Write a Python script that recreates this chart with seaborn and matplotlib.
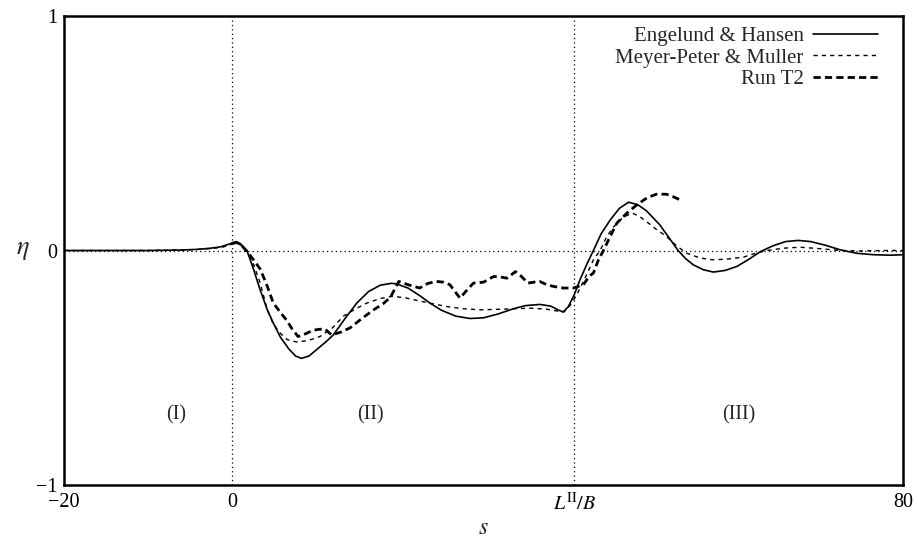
import matplotlib
matplotlib.use('Agg')
import matplotlib.pyplot as plt
import pandas as pd
import seaborn as sns

# 数据
L_B = 40.8  # L^II/B 的位置

eh_s = [-20, -10, -6, -4, -2.5, -1.4, -0.5, 0.5, 1.0, 1.8, 2.5, 3.4, 4.2, 4.95, 5.8, 6.8,
        7.6, 8.3, 9.2, 10.2, 11.2, 12.1, 13.5, 14.9, 16.3, 17.7, 19.0, 19.6, 21.0, 22.5,
        23.6, 25.0, 26.7, 28.4, 30.0, 31.8, 33.6, 35.0, 36.7, 38.0, 39.0, 39.5, 40.1,
        40.8, 41.5, 42.3, 43.1, 44.0, 45.1, 46.2, 47.3, 48.4, 49.4, 50.2, 51.0, 52.1,
        53.2, 54.1, 55.0, 56.2, 57.4, 58.8, 60.2, 61.6, 63.0, 64.5, 66.0, 67.5, 69.0,
        70.8, 72.5, 74.5, 76.5, 78.5, 80]
eh_eta = [0, 0, 0.002, 0.005, 0.01, 0.015, 0.025, 0.038, 0.03, 0.0, -0.07, -0.17, -0.25,
          -0.31, -0.37, -0.42, -0.45, -0.46, -0.45, -0.42, -0.39, -0.36, -0.29, -0.224,
          -0.175, -0.148, -0.14, -0.142, -0.16, -0.195, -0.224, -0.255, -0.28, -0.29,
          -0.287, -0.27, -0.248, -0.235, -0.23, -0.237, -0.255, -0.262, -0.24, -0.19,
          -0.125, -0.06, 0.0, 0.07, 0.13, 0.18, 0.206, 0.195, 0.17, 0.14, 0.11, 0.055,
          0.0, -0.035, -0.061, -0.082, -0.092, -0.085, -0.068, -0.038, -0.005, 0.02,
          0.038, 0.043, 0.038, 0.022, 0.003, -0.012, -0.018, -0.02, -0.018]

mpm_s = [-20, -10, -5, -2.5, -1, 0.3, 1.0, 1.8, 2.6, 3.4, 4.2, 4.9, 5.7, 6.6, 7.7, 9.0,
         10.5, 12.0, 13.3, 14.7, 16.1, 17.7, 19.2, 20.8, 23.0, 25.6, 27.5, 29.6, 32.5,
         35.5, 37.5, 39.1, 39.6, 40.3, 41.1, 42.2, 43.1, 43.9, 44.7, 45.5, 46.6, 47.7,
         48.6, 49.4, 50.6, 51.8, 53.0, 54.2, 55.8, 57.4, 59.2, 61.0, 62.4, 63.8, 65.8,
         67.7, 70, 72.5, 75, 77.5, 80]
mpm_eta = [0, 0, 0.003, 0.008, 0.015, 0.03, 0.025, 0.0, -0.06, -0.14, -0.25, -0.31, -0.35,
           -0.38, -0.39, -0.385, -0.367, -0.33, -0.28, -0.25, -0.224, -0.205, -0.195,
           -0.203, -0.22, -0.239, -0.248, -0.253, -0.25, -0.246, -0.25, -0.26, -0.262,
           -0.235, -0.19, -0.11, -0.04, 0.0, 0.06, 0.10, 0.14, 0.16, 0.145, 0.124, 0.09,
           0.06, 0.02, -0.011, -0.032, -0.04, -0.036, -0.028, -0.012, 0.0, 0.01, 0.014,
           0.008, 0.0, -0.002, 0.0, 0.0]

t2_s = [0.0, 0.6, 1.2, 1.8, 2.6, 3.4, 4.2, 4.95, 5.7, 6.5, 7.2, 7.9, 8.8, 9.7, 10.4, 11.1,
        11.9, 13.0, 14.1, 15.5, 16.9, 18.0, 18.9, 19.9, 21.2, 22.4, 23.4, 24.4, 25.2,
        26.0, 26.6, 27.2, 28.0, 28.8, 30.0, 31.2, 32.0, 32.8, 33.8, 34.5, 35.3, 36.0,
        36.7, 37.5, 38.3, 39.5, 40.7, 41.9, 42.6, 43.1, 43.7, 44.3, 45.1, 45.9, 47.1,
        48.3, 49.5, 50.6, 51.8, 52.7, 53.6]
t2_eta = [0.03, 0.034, 0.02, -0.004, -0.04, -0.08, -0.15, -0.224, -0.26, -0.296, -0.335,
          -0.367, -0.355, -0.34, -0.336, -0.335, -0.36, -0.348, -0.33, -0.29, -0.253,
          -0.228, -0.2, -0.132, -0.148, -0.16, -0.14, -0.132, -0.135, -0.146, -0.175,
          -0.203, -0.17, -0.139, -0.135, -0.111, -0.113, -0.118, -0.09, -0.11, -0.139,
          -0.135, -0.132, -0.145, -0.153, -0.16, -0.16, -0.146, -0.11, -0.096, -0.04,
          0.0, 0.06, 0.117, 0.16, 0.195, 0.225, 0.24, 0.24, 0.228, 0.213]

x_ticks = [-20, 0, L_B, 80]
x_ticklabels = ['\u221220', '0', r'$L^{\mathrm{II}}/B$', '80']
y_ticks = [-1, 0, 1]
y_ticklabels = ['\u22121', '0', '1']

region_labels = ['(I)', '(II)', '(III)']
region_s = [-6.6, 16.5, 60.4]
region_eta = -0.70

# 样式
sns.set_style('white')
plt.rcParams['font.family'] = ['Liberation Serif', 'DejaVu Serif']
plt.rcParams['mathtext.fontset'] = 'stix'
plt.rcParams['axes.unicode_minus'] = True

fig = plt.figure(figsize=(9.18, 5.42), dpi=100)
ax = fig.add_axes([64 / 918, 57 / 542, 839 / 918, 469 / 542])

# 参考线
ax.axvline(0, color='black', linestyle=(0, (1, 2.5)), linewidth=0.9, zorder=1)
ax.axvline(L_B, color='black', linestyle=(0, (1, 2.5)), linewidth=0.9, zorder=1)
ax.axhline(0, color='black', linestyle=(0, (1, 2.5)), linewidth=0.9, zorder=1)

eh = pd.DataFrame({'s': eh_s, 'eta': eh_eta})
mpm = pd.DataFrame({'s': mpm_s, 'eta': mpm_eta})
t2 = pd.DataFrame({'s': t2_s, 'eta': t2_eta})

sns.lineplot(data=eh, x='s', y='eta', ax=ax, color='black', linewidth=1.2,
             sort=False, estimator=None, label='Engelund & Hansen')
sns.lineplot(data=mpm, x='s', y='eta', ax=ax, color='black', linewidth=1.0,
             linestyle=(0, (3, 3)), sort=False, estimator=None, label='Meyer-Peter & Muller')
sns.lineplot(data=t2, x='s', y='eta', ax=ax, color='black', linewidth=2.0,
             linestyle=(0, (2.6, 1.5)), sort=False, estimator=None, label='Run T2')

ax.set_xlim(-20, 80)
ax.set_ylim(-1, 1)
ax.set_xticks(x_ticks)
ax.set_xticklabels(x_ticklabels)
ax.set_yticks(y_ticks)
ax.set_yticklabels(y_ticklabels)
ax.tick_params(axis='both', direction='in', length=7, width=1.5, labelsize=14.5,
               colors='black')
ax.tick_params(axis='x', pad=6)
ax.tick_params(axis='y', pad=5)

for sp in ax.spines.values():
    sp.set_linewidth(1.8)
    sp.set_color('black')

ax.set_xlabel('$s$', fontsize=17, labelpad=2)
ax.set_ylabel(r'$\eta$', fontsize=19, rotation=0, labelpad=9, va='center')

for lab, xs in zip(region_labels, region_s):
    ax.text(xs, region_eta, lab, ha='center', va='center', fontsize=14.5)

ax.legend(loc='upper right', bbox_to_anchor=(0.970, 0.978), frameon=False,
          markerfirst=False, fontsize=15, handlelength=3.1, handletextpad=0.45,
          labelspacing=0.1, borderpad=0, borderaxespad=0)

plt.savefig('out.png', dpi=100)
